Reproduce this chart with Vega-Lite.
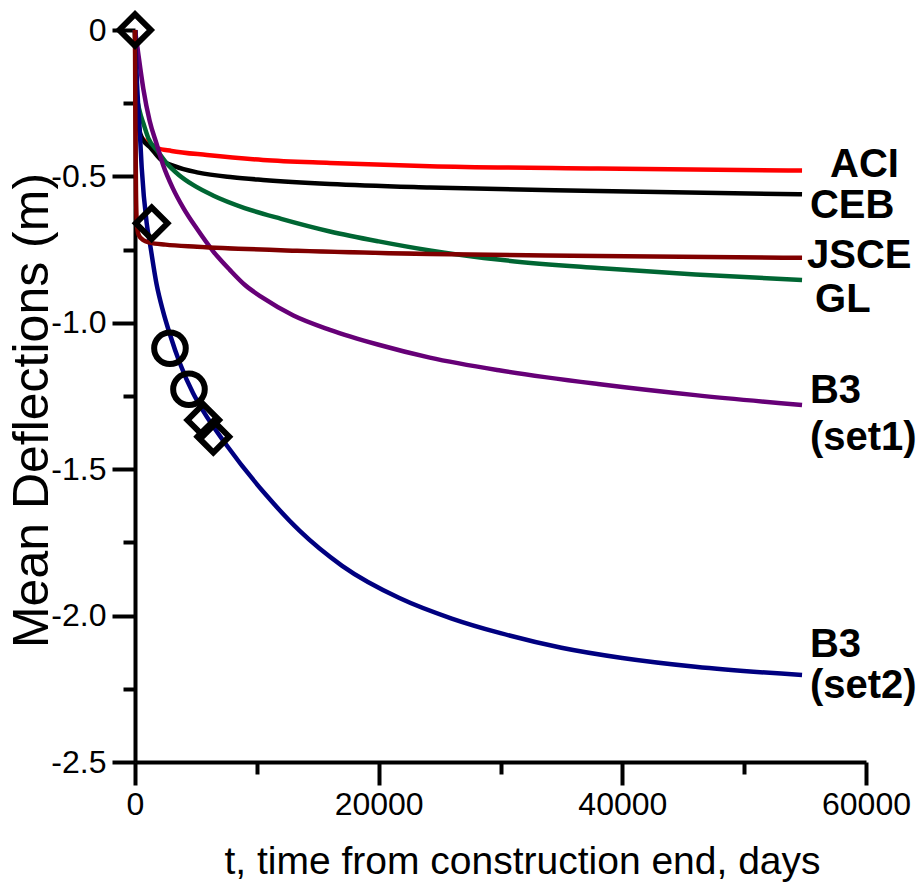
{
  "$schema": "https://vega.github.io/schema/vega-lite/v6.json",
  "width": 731,
  "height": 732,
  "autosize": "none",
  "padding": {"left": 135, "top": 30, "right": 51, "bottom": 131},
  "background": "white",
  "config": {
    "view": {"stroke": null},
    "axis": {
      "domainColor": "black", "domainWidth": 4, "tickColor": "black", "tickWidth": 4,
      "grid": false, "labelFont": "Liberation Sans", "labelFontSize": 32, "labelColor": "black", "labelFlush": false,
      "titleFont": "Liberation Sans", "titleFontWeight": "normal", "titleColor": "black"
    }
  },
  "datasets": {
    "curves": [
      {"t": 0, "v": 0, "s": "ACI"}, {"t": 50, "v": -0.2, "s": "ACI"}, {"t": 150, "v": -0.32, "s": "ACI"}, {"t": 300, "v": -0.35, "s": "ACI"}, {"t": 600, "v": -0.37, "s": "ACI"}, {"t": 1000, "v": -0.385, "s": "ACI"}, {"t": 1800, "v": -0.403, "s": "ACI"}, {"t": 3000, "v": -0.413, "s": "ACI"}, {"t": 5900, "v": -0.427, "s": "ACI"}, {"t": 10500, "v": -0.444, "s": "ACI"}, {"t": 16000, "v": -0.454, "s": "ACI"}, {"t": 24200, "v": -0.465, "s": "ACI"}, {"t": 38000, "v": -0.473, "s": "ACI"}, {"t": 54750, "v": -0.48, "s": "ACI"},
      {"t": 0, "v": 0, "s": "CEB"}, {"t": 100, "v": -0.2, "s": "CEB"}, {"t": 300, "v": -0.33, "s": "CEB"}, {"t": 660, "v": -0.376, "s": "CEB"}, {"t": 1230, "v": -0.4, "s": "CEB"}, {"t": 2050, "v": -0.44, "s": "CEB"}, {"t": 3300, "v": -0.466, "s": "CEB"}, {"t": 5200, "v": -0.487, "s": "CEB"}, {"t": 8000, "v": -0.503, "s": "CEB"}, {"t": 10500, "v": -0.512, "s": "CEB"}, {"t": 16000, "v": -0.526, "s": "CEB"}, {"t": 24200, "v": -0.538, "s": "CEB"}, {"t": 38000, "v": -0.55, "s": "CEB"}, {"t": 54750, "v": -0.561, "s": "CEB"},
      {"t": 0, "v": 0, "s": "GL"}, {"t": 40, "v": -0.1, "s": "GL"}, {"t": 140, "v": -0.22, "s": "GL"}, {"t": 400, "v": -0.28, "s": "GL"}, {"t": 700, "v": -0.32, "s": "GL"}, {"t": 1100, "v": -0.37, "s": "GL"}, {"t": 1800, "v": -0.41, "s": "GL"}, {"t": 2600, "v": -0.455, "s": "GL"}, {"t": 3600, "v": -0.495, "s": "GL"}, {"t": 4800, "v": -0.53, "s": "GL"}, {"t": 6400, "v": -0.565, "s": "GL"}, {"t": 9000, "v": -0.608, "s": "GL"}, {"t": 12000, "v": -0.645, "s": "GL"}, {"t": 16000, "v": -0.688, "s": "GL"}, {"t": 20000, "v": -0.722, "s": "GL"}, {"t": 24200, "v": -0.753, "s": "GL"}, {"t": 30000, "v": -0.785, "s": "GL"}, {"t": 38000, "v": -0.813, "s": "GL"}, {"t": 46000, "v": -0.835, "s": "GL"}, {"t": 54750, "v": -0.854, "s": "GL"},
      {"t": 0, "v": 0, "s": "B3 (set1)"}, {"t": 200, "v": -0.06, "s": "B3 (set1)"}, {"t": 680, "v": -0.2, "s": "B3 (set1)"}, {"t": 1200, "v": -0.31, "s": "B3 (set1)"}, {"t": 1780, "v": -0.39, "s": "B3 (set1)"}, {"t": 2300, "v": -0.46, "s": "B3 (set1)"}, {"t": 3100, "v": -0.54, "s": "B3 (set1)"}, {"t": 4000, "v": -0.61, "s": "B3 (set1)"}, {"t": 5100, "v": -0.68, "s": "B3 (set1)"}, {"t": 6400, "v": -0.755, "s": "B3 (set1)"}, {"t": 7800, "v": -0.82, "s": "B3 (set1)"}, {"t": 9000, "v": -0.87, "s": "B3 (set1)"}, {"t": 10500, "v": -0.915, "s": "B3 (set1)"}, {"t": 13000, "v": -0.975, "s": "B3 (set1)"}, {"t": 16000, "v": -1.024, "s": "B3 (set1)"}, {"t": 20000, "v": -1.075, "s": "B3 (set1)"}, {"t": 24200, "v": -1.119, "s": "B3 (set1)"}, {"t": 30000, "v": -1.163, "s": "B3 (set1)"}, {"t": 38000, "v": -1.209, "s": "B3 (set1)"}, {"t": 46000, "v": -1.247, "s": "B3 (set1)"}, {"t": 54750, "v": -1.281, "s": "B3 (set1)"},
      {"t": 0, "v": 0, "s": "B3 (set2)"}, {"t": 100, "v": -0.12, "s": "B3 (set2)"}, {"t": 250, "v": -0.25, "s": "B3 (set2)"}, {"t": 410, "v": -0.36, "s": "B3 (set2)"}, {"t": 550, "v": -0.47, "s": "B3 (set2)"}, {"t": 960, "v": -0.66, "s": "B3 (set2)"}, {"t": 1230, "v": -0.73, "s": "B3 (set2)"}, {"t": 1780, "v": -0.87, "s": "B3 (set2)"}, {"t": 2300, "v": -0.96, "s": "B3 (set2)"}, {"t": 2870, "v": -1.04, "s": "B3 (set2)"}, {"t": 3700, "v": -1.14, "s": "B3 (set2)"}, {"t": 4760, "v": -1.24, "s": "B3 (set2)"}, {"t": 5580, "v": -1.3, "s": "B3 (set2)"}, {"t": 7550, "v": -1.42, "s": "B3 (set2)"}, {"t": 10800, "v": -1.59, "s": "B3 (set2)"}, {"t": 13500, "v": -1.71, "s": "B3 (set2)"}, {"t": 17000, "v": -1.83, "s": "B3 (set2)"}, {"t": 21700, "v": -1.94, "s": "B3 (set2)"}, {"t": 26000, "v": -2.01, "s": "B3 (set2)"}, {"t": 30000, "v": -2.06, "s": "B3 (set2)"}, {"t": 35000, "v": -2.11, "s": "B3 (set2)"}, {"t": 40000, "v": -2.145, "s": "B3 (set2)"}, {"t": 46000, "v": -2.175, "s": "B3 (set2)"}, {"t": 54750, "v": -2.203, "s": "B3 (set2)"},
      {"t": 0, "v": 0, "s": "JSCE"}, {"t": 30, "v": -0.3, "s": "JSCE"}, {"t": 80, "v": -0.55, "s": "JSCE"}, {"t": 150, "v": -0.66, "s": "JSCE"}, {"t": 300, "v": -0.7, "s": "JSCE"}, {"t": 660, "v": -0.717, "s": "JSCE"}, {"t": 1230, "v": -0.726, "s": "JSCE"}, {"t": 2500, "v": -0.733, "s": "JSCE"}, {"t": 5100, "v": -0.74, "s": "JSCE"}, {"t": 13300, "v": -0.754, "s": "JSCE"}, {"t": 24200, "v": -0.765, "s": "JSCE"}, {"t": 38000, "v": -0.772, "s": "JSCE"}, {"t": 54750, "v": -0.778, "s": "JSCE"}
    ],
    "markers": [
      {"t": 0, "v": 0, "shape": "diamond"},
      {"t": 1370, "v": -0.66, "shape": "diamond"},
      {"t": 2870, "v": -1.087, "shape": "circle"},
      {"t": 4430, "v": -1.227, "shape": "circle"},
      {"t": 5600, "v": -1.332, "shape": "diamond"},
      {"t": 6430, "v": -1.389, "shape": "diamond"}
    ],
    "labels": [
      {"t": 57050, "v": -0.502, "text": "ACI"},
      {"t": 55400, "v": -0.642, "text": "CEB"},
      {"t": 55160, "v": -0.813, "text": "JSCE"},
      {"t": 55815, "v": -0.963, "text": "GL"},
      {"t": 55400, "v": -1.274, "text": "B3"},
      {"t": 55400, "v": -1.434, "text": "(set1)"},
      {"t": 55400, "v": -2.141, "text": "B3"},
      {"t": 55400, "v": -2.281, "text": "(set2)"}
    ]
  },
  "encoding": {
    "x": {
      "field": "t", "type": "quantitative",
      "scale": {"domain": [0, 60000], "nice": false, "zero": false},
      "axis": {
        "values": [0, 10000, 20000, 30000, 40000, 50000, 60000],
        "labelExpr": "datum.value % 20000 === 0 ? format(datum.value, 'd') : ''",
        "tickSize": {"condition": {"test": "datum.value % 20000 === 0", "value": 23}, "value": 12},
        "labelPadding": 4,
        "title": "t, time from construction end, days",
        "titleFontSize": 39, "titlePadding": 22, "titleX": 387
      }
    },
    "y": {
      "field": "v", "type": "quantitative",
      "scale": {"domain": [-2.5, 0], "nice": false, "zero": false},
      "axis": {
        "values": [-2.5, -2.25, -2, -1.75, -1.5, -1.25, -1, -0.75, -0.5, -0.25, 0],
        "labelExpr": "datum.value === 0 ? '0' : (abs(datum.value*2 - round(datum.value*2)) < 0.001 ? '-' + format(abs(datum.value), '.1f') : '')",
        "tickSize": {"condition": {"test": "abs(datum.value*2 - round(datum.value*2)) < 0.001", "value": 23}, "value": 12},
        "labelPadding": 6,
        "title": "Mean Deflections (m)",
        "titleFontSize": 50, "titleAngle": 270, "titleBaseline": "alphabetic", "titleAlign": "center",
        "titleX": -88, "titleY": 380
      }
    }
  },
  "layer": [
    {
      "data": {"name": "curves"},
      "mark": {"type": "line", "strokeWidth": 4.5, "interpolate": "monotone"},
      "encoding": {
        "color": {
          "field": "s", "type": "nominal", "legend": null,
          "scale": {
            "domain": ["ACI", "CEB", "GL", "B3 (set1)", "B3 (set2)", "JSCE"],
            "range": ["#ff0000", "#000000", "#006633", "#660077", "#000080", "#800000"]
          }
        },
        "order": {"field": "t", "type": "quantitative"}
      }
    },
    {
      "data": {"name": "markers"},
      "mark": {"type": "point", "filled": false, "stroke": "black", "strokeWidth": 6, "size": 1000, "opacity": 1},
      "encoding": {
        "shape": {"field": "shape", "type": "nominal", "legend": null, "scale": {"domain": ["diamond", "circle"], "range": ["diamond", "circle"]}}
      }
    },
    {
      "data": {"name": "labels"},
      "mark": {"type": "text", "align": "left", "baseline": "alphabetic", "font": "Liberation Sans", "fontWeight": "bold", "fontSize": 40, "color": "black"},
      "encoding": {"text": {"field": "text"}}
    }
  ]
}
